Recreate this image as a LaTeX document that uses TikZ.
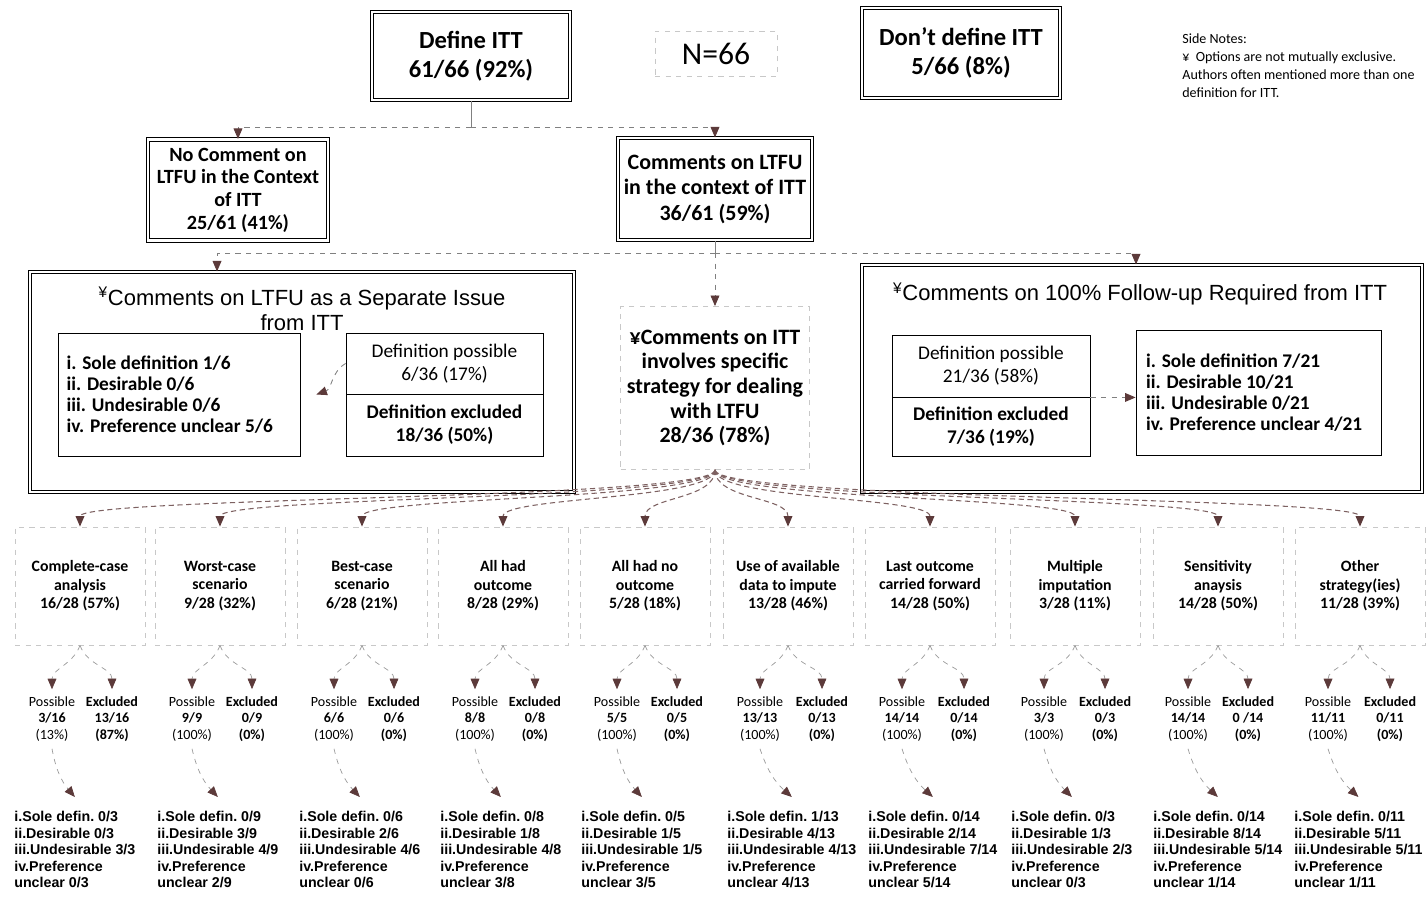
\documentclass[tikz,border=0pt]{standalone}
\usepackage{fontspec}
\setmainfont{Carlito}
\newfontfamily\arialf{Liberation Sans}
\usetikzlibrary{arrows.meta}
\definecolor{linkc}{RGB}{92,58,58}
\definecolor{faintc}{RGB}{200,200,200}

\begin{document}
\begin{tikzpicture}[x=0.02cm,y=-0.02cm,
  dbox/.style={draw,double,double distance=1.4pt,line width=0.6pt,align=center},
  sbox/.style={draw,line width=0.5pt,align=center},
  fbox/.style={draw=faintc,dashed,line width=0.5pt,align=center},
  stratbox/.style={fbox,minimum width=2.6cm,minimum height=2.36cm,font=\bfseries\fontsize{9}{10.5}\selectfont},
  possnode/.style={align=center,inner xsep=1pt,inner ysep=4pt,font=\fontsize{8}{9.4}\selectfont},
  exclnode/.style={possnode,font=\bfseries\fontsize{8}{9.4}\selectfont},
  listnode/.style={anchor=north west,align=left,inner xsep=0pt,inner ysep=8pt,font=\arialf\bfseries\fontsize{8.1}{9.4}\selectfont\frenchspacing},
  tip/.style={-{Triangle[length=6pt,width=5pt,color=linkc]}},
  stem/.style={draw=gray,line width=0.5pt},
  link/.style={tip,draw=gray,dashed,line width=0.5pt},
  fan/.style={tip,draw=linkc!80,densely dashed,line width=0.6pt},
  split/.style={tip,draw=gray!80,dashed,line width=0.4pt}]
  \useasboundingbox (0,0) rectangle (1426,908);

  \node[dbox,minimum width=3.96cm,minimum height=1.76cm,font=\bfseries\fontsize{14}{16.5}\selectfont] (defitt) at (471,56) {Define ITT\\61/66 (92\%)};
  \node[fbox,minimum width=2.44cm,minimum height=0.9cm,font=\fontsize{18}{20}\selectfont] (total) at (716,54) {N=66};
  \node[dbox,minimum width=3.96cm,minimum height=1.8cm,font=\bfseries\fontsize{14}{16.5}\selectfont] (nodef) at (961,53) {Don’t define ITT\\5/66 (8\%)};
  \node[anchor=north west,align=left,inner sep=0pt,font=\fontsize{8}{10.4}\selectfont] (notes) at (1182,33) {Side Notes:\\¥\ \ Options are not mutually exclusive.\\Authors often mentioned more than one\\definition for ITT.};

  \node[dbox,minimum width=3.6cm,minimum height=2.02cm,font=\bfseries\fontsize{11.5}{12.9}\selectfont] (nocom) at (238,190) {No Comment on\\LTFU in the Context\\of ITT\\25/61 (41\%)};
  \node[dbox,minimum width=3.86cm,minimum height=2.04cm,font=\bfseries\fontsize{12.5}{14.5}\selectfont] (comltfu) at (715,189) {Comments on LTFU\\in the context of ITT\\36/61 (59\%)};

  \coordinate (j1) at (471,127);
  \draw[stem] (defitt) -- (j1);
  \draw[link] (j1) -| (nocom);
  \draw[link] (j1) -| (comltfu);

  \node[dbox,minimum width=10.88cm,minimum height=4.4cm] (sepbox) at (302,382) {};
  \node[align=center,font=\arialf\fontsize{12.5}{14.7}\selectfont] (septitle) at (302,309) {\textsuperscript{¥}Comments on LTFU as a Separate Issue\\from ITT};
  \node[sbox,minimum width=4.84cm,minimum height=2.46cm,text width=4.5cm,align=flush left,font=\bfseries\fontsize{11}{11.9}\selectfont] (seplist) at (179,394.5) {i. Sole definition 1/6\\ii. Desirable 0/6\\iii. Undesirable 0/6\\iv. Preference unclear 5/6};
  \node[sbox,minimum width=3.94cm,minimum height=1.22cm,font=\fontsize{11}{13}\selectfont] (sepposs) at (444.5,363.5) {Definition possible\\6/36 (17\%)};
  \node[sbox,minimum width=3.94cm,minimum height=1.24cm,font=\bfseries\fontsize{11}{13}\selectfont] (sepexcl) at (444.5,425) {Definition excluded\\18/36 (50\%)};
  \draw[link] (sepposs.west) to[out=210,in=20] ([xshift=0.32cm]seplist.east);

  \node[fbox,minimum width=3.78cm,minimum height=3.26cm,font=\bfseries\fontsize{12.5}{14}\selectfont] (strat) at (715,388) {¥Comments on ITT\\involves specific\\strategy for dealing\\with LTFU\\28/36 (78\%)};

  \node[dbox,minimum width=11.2cm,minimum height=4.54cm] (fupbox) at (1142,378.5) {};
  \node[font=\arialf\fontsize{12.5}{14.7}\selectfont] (fuptitle) at (1140,294) {\textsuperscript{¥}Comments on 100\% Follow-up Required from ITT};
  \node[sbox,minimum width=3.96cm,minimum height=1.24cm,font=\fontsize{11}{13}\selectfont] (fupposs) at (991,366) {Definition possible\\21/36 (58\%)};
  \node[sbox,minimum width=3.96cm,minimum height=1.18cm,font=\bfseries\fontsize{11}{13}\selectfont] (fupexcl) at (991,426.5) {Definition excluded\\7/36 (19\%)};
  \node[sbox,minimum width=4.9cm,minimum height=2.5cm,text width=4.5cm,align=flush left,font=\bfseries\fontsize{11}{11.9}\selectfont] (fuplist) at (1258.5,392.5) {i. Sole definition 7/21\\ii. Desirable 10/21\\iii. Undesirable 0/21\\iv. Preference unclear 4/21};
  \draw[link] (fupposs.south east) -- (fuplist.west |- fupposs.south east);

  \coordinate (j2) at (715,253);
  \draw[stem] (comltfu) -- (j2);
  \draw[link] (j2) -| ([xshift=-1.7cm]sepbox.north);
  \draw[link] (j2) -- (strat);
  \draw[link] (j2) -| ([xshift=-0.12cm]fupbox.north);

  \node[stratbox] (cca) at (80,586) {Complete-case\\analysis\\16/28 (57\%)};
  \node[stratbox] (worst) at (220,586) {Worst-case\\scenario\\9/28 (32\%)};
  \node[stratbox] (best) at (362,586) {Best-case\\scenario\\6/28 (21\%)};
  \node[stratbox] (allhad) at (503,586) {All had\\outcome\\8/28 (29\%)};
  \node[stratbox] (allno) at (645,586) {All had no\\outcome\\5/28 (18\%)};
  \node[stratbox] (avail) at (788,586) {Use of available\\data to impute\\13/28 (46\%)};
  \node[stratbox] (locf) at (930,586) {Last outcome\\carried forward\\14/28 (50\%)};
  \node[stratbox] (multi) at (1075,586) {Multiple\\imputation\\3/28 (11\%)};
  \node[stratbox] (sens) at (1218,586) {Sensitivity\\anaysis\\14/28 (50\%)};
  \node[stratbox] (other) at (1360,586) {Other\\strategy(ies)\\11/28 (39\%)};

  \draw[fan] (strat.south) .. controls +(0,30) and +(0,-30) .. (cca.north);
  \draw[fan] (strat.south) .. controls +(0,30) and +(0,-30) .. (worst.north);
  \draw[fan] (strat.south) .. controls +(0,30) and +(0,-30) .. (best.north);
  \draw[fan] (strat.south) .. controls +(0,30) and +(0,-30) .. (allhad.north);
  \draw[fan] (strat.south) .. controls +(0,30) and +(0,-30) .. (allno.north);
  \draw[fan] (strat.south) .. controls +(0,30) and +(0,-30) .. (avail.north);
  \draw[fan] (strat.south) .. controls +(0,30) and +(0,-30) .. (locf.north);
  \draw[fan] (strat.south) .. controls +(0,30) and +(0,-30) .. (multi.north);
  \draw[fan] (strat.south) .. controls +(0,30) and +(0,-30) .. (sens.north);
  \draw[fan] (strat.south) .. controls +(0,30) and +(0,-30) .. (other.north);

  \node[possnode] (ccap) at (52,719) {Possible\\\textbf{3/16}\\(13\%)};
  \node[exclnode] (ccae) at (112,719) {Excluded\\13/16\\(87\%)};
  \node[possnode] (worstp) at (192,719) {Possible\\\textbf{9/9}\\(100\%)};
  \node[exclnode] (worste) at (252,719) {Excluded\\0/9\\(0\%)};
  \node[possnode] (bestp) at (334,719) {Possible\\\textbf{6/6}\\(100\%)};
  \node[exclnode] (beste) at (394,719) {Excluded\\0/6\\(0\%)};
  \node[possnode] (allhadp) at (475,719) {Possible\\\textbf{8/8}\\(100\%)};
  \node[exclnode] (allhade) at (535,719) {Excluded\\0/8\\(0\%)};
  \node[possnode] (allnop) at (617,719) {Possible\\\textbf{5/5}\\(100\%)};
  \node[exclnode] (allnoe) at (677,719) {Excluded\\0/5\\(0\%)};
  \node[possnode] (availp) at (760,719) {Possible\\\textbf{13/13}\\(100\%)};
  \node[exclnode] (availe) at (822,719) {Excluded\\0/13\\(0\%)};
  \node[possnode] (locfp) at (902,719) {Possible\\\textbf{14/14}\\(100\%)};
  \node[exclnode] (locfe) at (964,719) {Excluded\\0/14\\(0\%)};
  \node[possnode] (multip) at (1044,719) {Possible\\\textbf{3/3}\\(100\%)};
  \node[exclnode] (multie) at (1105,719) {Excluded\\0/3\\(0\%)};
  \node[possnode] (sensp) at (1188,719) {Possible\\\textbf{14/14}\\(100\%)};
  \node[exclnode] (sense) at (1248,719) {Excluded\\0 /14\\(0\%)};
  \node[possnode] (otherp) at (1328,719) {Possible\\\textbf{11/11}\\(100\%)};
  \node[exclnode] (othere) at (1390,719) {Excluded\\0/11\\(0\%)};

  \draw[split] (cca.south) to[out=-110,in=90] (ccap);
  \draw[split] (cca.south) to[out=-70,in=90] (ccae);
  \draw[split] (worst.south) to[out=-110,in=90] (worstp);
  \draw[split] (worst.south) to[out=-70,in=90] (worste);
  \draw[split] (best.south) to[out=-110,in=90] (bestp);
  \draw[split] (best.south) to[out=-70,in=90] (beste);
  \draw[split] (allhad.south) to[out=-110,in=90] (allhadp);
  \draw[split] (allhad.south) to[out=-70,in=90] (allhade);
  \draw[split] (allno.south) to[out=-110,in=90] (allnop);
  \draw[split] (allno.south) to[out=-70,in=90] (allnoe);
  \draw[split] (avail.south) to[out=-110,in=90] (availp);
  \draw[split] (avail.south) to[out=-70,in=90] (availe);
  \draw[split] (locf.south) to[out=-110,in=90] (locfp);
  \draw[split] (locf.south) to[out=-70,in=90] (locfe);
  \draw[split] (multi.south) to[out=-110,in=90] (multip);
  \draw[split] (multi.south) to[out=-70,in=90] (multie);
  \draw[split] (sens.south) to[out=-110,in=90] (sensp);
  \draw[split] (sens.south) to[out=-70,in=90] (sense);
  \draw[split] (other.south) to[out=-110,in=90] (otherp);
  \draw[split] (other.south) to[out=-70,in=90] (othere);

  \node[listnode] (ccal) at (14,797) {i.Sole defin. 0/3\\ii.Desirable 0/3\\iii.Undesirable 3/3\\iv.Preference\\unclear 0/3};
  \node[listnode] (worstl) at (157,797) {i.Sole defin. 0/9\\ii.Desirable 3/9\\iii.Undesirable 4/9\\iv.Preference\\unclear 2/9};
  \node[listnode] (bestl) at (299,797) {i.Sole defin. 0/6\\ii.Desirable 2/6\\iii.Undesirable 4/6\\iv.Preference\\unclear 0/6};
  \node[listnode] (allhadl) at (440,797) {i.Sole defin. 0/8\\ii.Desirable 1/8\\iii.Undesirable 4/8\\iv.Preference\\unclear 3/8};
  \node[listnode] (allnol) at (581,797) {i.Sole defin. 0/5\\ii.Desirable 1/5\\iii.Undesirable 1/5\\iv.Preference\\unclear 3/5};
  \node[listnode] (availl) at (727,797) {i.Sole defin. 1/13\\ii.Desirable 4/13\\iii.Undesirable 4/13\\iv.Preference\\unclear 4/13};
  \node[listnode] (locfl) at (868,797) {i.Sole defin. 0/14\\ii.Desirable 2/14\\iii.Undesirable 7/14\\iv.Preference\\unclear 5/14};
  \node[listnode] (multil) at (1011,797) {i.Sole defin. 0/3\\ii.Desirable 1/3\\iii.Undesirable 2/3\\iv.Preference\\unclear 0/3};
  \node[listnode] (sensl) at (1153,797) {i.Sole defin. 0/14\\ii.Desirable 8/14\\iii.Undesirable 5/14\\iv.Preference\\unclear 1/14};
  \node[listnode] (otherl) at (1294,797) {i.Sole defin. 0/11\\ii.Desirable 5/11\\iii.Undesirable 5/11\\iv.Preference\\unclear 1/11};

  \draw[split] (ccap.south) to[bend right=15] (ccal.north);
  \draw[split] (worstp.south) to[bend right=15] (worstl.north);
  \draw[split] (bestp.south) to[bend right=15] (bestl.north);
  \draw[split] (allhadp.south) to[bend right=15] (allhadl.north);
  \draw[split] (allnop.south) to[bend right=15] (allnol.north);
  \draw[split] (availp.south) to[bend right=15] (availl.north);
  \draw[split] (locfp.south) to[bend right=15] (locfl.north);
  \draw[split] (multip.south) to[bend right=15] (multil.north);
  \draw[split] (sensp.south) to[bend right=15] (sensl.north);
  \draw[split] (otherp.south) to[bend right=15] (otherl.north);
\end{tikzpicture}
\end{document}
